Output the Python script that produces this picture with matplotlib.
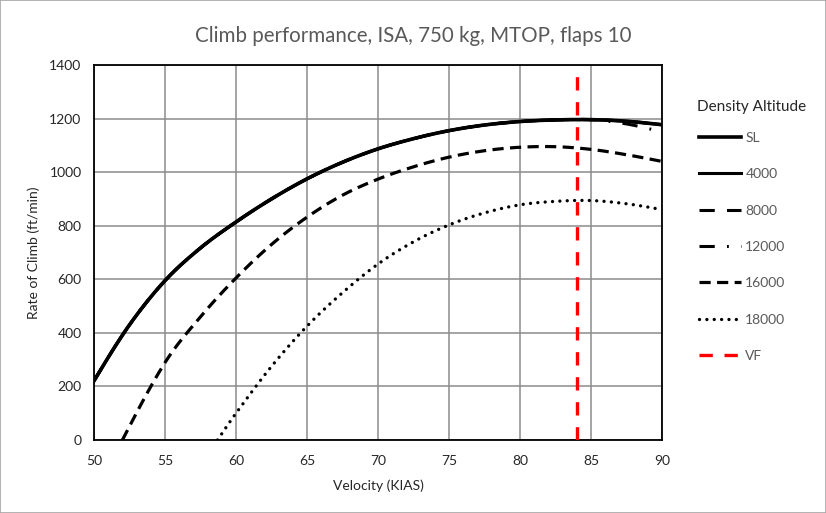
import numpy as np
import matplotlib.pyplot as plt
from matplotlib.patches import Rectangle

# Velocity (KIAS) and rate of climb (ft/min)
kias = [50, 52.5, 55, 57.5, 60, 62.5, 65, 67.5, 70, 72.5, 75, 77.5, 80, 82.5, 85, 87.5, 90]
roc_sl = [221, 430, 595, 717, 814, 900, 975, 1037, 1087, 1125, 1155, 1176, 1189, 1195, 1196, 1190, 1177]
roc_4000 = roc_sl
roc_8000 = roc_sl
roc_12000 = [221, 430, 595, 717, 814, 900, 975, 1037, 1087, 1125, 1155, 1176, 1189, 1195, 1196, 1180, 1150]

kias_16000 = [52, 55, 57.5, 60, 62.5, 65, 67.5, 70, 72.5, 75, 77.5, 80, 82.5, 85, 87.5, 90]
roc_16000 = [0, 289, 460, 605, 730, 832, 914, 974, 1020, 1056, 1080, 1093, 1095, 1085, 1065, 1040]

kias_18000 = [58.7, 60, 62.5, 65, 67.5, 70, 72.5, 75, 77.5, 80, 82.5, 85, 87.5, 90]
roc_18000 = [0, 100, 275, 425, 550, 657, 740, 803, 848, 878, 891, 894, 882, 860]

vf_kias = 84


def smooth(x, y, n=20):
    # smoothed line like Excel's: cubic Hermite segments through the points
    x = np.asarray(x, float)
    y = np.asarray(y, float)
    m = np.empty_like(y)
    m[1:-1] = (y[2:] - y[:-2]) / (x[2:] - x[:-2])
    s0 = (y[1] - y[0]) / (x[1] - x[0])
    s1 = (y[-1] - y[-2]) / (x[-1] - x[-2])
    m[0] = 1.5 * s0 - 0.5 * m[1]
    m[-1] = 1.5 * s1 - 0.5 * m[-2]
    t = np.linspace(0, 1, n, endpoint=False)
    xs, ys = [], []
    for i in range(len(x) - 1):
        h = x[i + 1] - x[i]
        h00 = 2 * t ** 3 - 3 * t ** 2 + 1
        h10 = t ** 3 - 2 * t ** 2 + t
        h01 = -2 * t ** 3 + 3 * t ** 2
        h11 = t ** 3 - t ** 2
        xs.append(x[i] + h * t)
        ys.append(h00 * y[i] + h10 * h * m[i] + h01 * y[i + 1] + h11 * h * m[i + 1])
    xs.append([x[-1]])
    ys.append([y[-1]])
    return np.concatenate(xs), np.concatenate(ys)


fig = plt.figure(figsize=(8.26, 5.13), dpi=100)
fig.patches.append(Rectangle((0, 0), 1, 1, transform=fig.transFigure, fill=False,
                             edgecolor='#a6a6a6', linewidth=1.2))
ax = fig.add_axes([0.1138, 0.1423, 0.6877, 0.731])

ax.plot(*smooth(kias, roc_sl), color='black', lw=2.6, label='SL', zorder=5)
ax.plot(*smooth(kias, roc_4000), color='black', lw=2.2, label='4000', zorder=4)
ax.plot(*smooth(kias, roc_8000), color='black', lw=2.2, dashes=(5, 4), label='8000', zorder=3)
ax.plot(*smooth(kias, roc_12000), color='black', lw=2.2, dashes=(5, 4, 0.6, 4), label='12000', zorder=3)
ax.plot(*smooth(kias_16000, roc_16000), color='black', lw=2.3, dashes=(3.5, 2), label='16000', zorder=4)
ax.plot(*smooth(kias_18000, roc_18000), color='black', lw=2.4, linestyle=(0, (0.01, 2.2)),
        dash_capstyle='round', label='18000', zorder=4)
ax.plot([vf_kias, vf_kias], [0, 1400], color='#ff0000', lw=2.4, dashes=(4, 3.5),
        label='VF', zorder=6)

ax.set_xlim(50, 90)
ax.set_ylim(0, 1400)
ax.set_xticks(range(50, 91, 5))
ax.set_yticks(range(0, 1401, 200))
ax.grid(True, color='#8c8c8c', linewidth=1.1)
ax.set_axisbelow(True)
for s in ax.spines.values():
    s.set_color('black')
    s.set_linewidth(1.3)
ax.tick_params(length=0, labelsize=10, colors='#262626')
ax.tick_params(axis='x', pad=11)
ax.tick_params(axis='y', pad=9)
for lbl in ax.get_xticklabels() + ax.get_yticklabels():
    lbl.set_fontfamily('Lato')

ax.set_xlabel('Velocity (KIAS)', fontsize=10, family='Lato', color='#262626', labelpad=9)
ax.set_ylabel('Rate of Climb (ft/min)', fontsize=10, family='Lato', color='#262626', labelpad=7)
fig.suptitle('Climb performance, ISA, 750 kg, MTOP, flaps 10', fontsize=14.8,
             family='Lato', color='#595959', y=0.95)

fig.text(697 / 826, 1 - 107 / 513, 'Density Altitude', fontsize=11, family='Lato',
         color='#262626', ha='left', va='center')
leg = ax.legend(loc='upper left', bbox_to_anchor=(0.8317, 0.767), bbox_transform=fig.transFigure,
                frameon=False, handlelength=3.0, labelspacing=1.75, handletextpad=0.3,
                prop={'family': 'Lato', 'size': 10})
for t in leg.get_texts():
    t.set_color('#595959')

fig.savefig('out.png', dpi=100)
